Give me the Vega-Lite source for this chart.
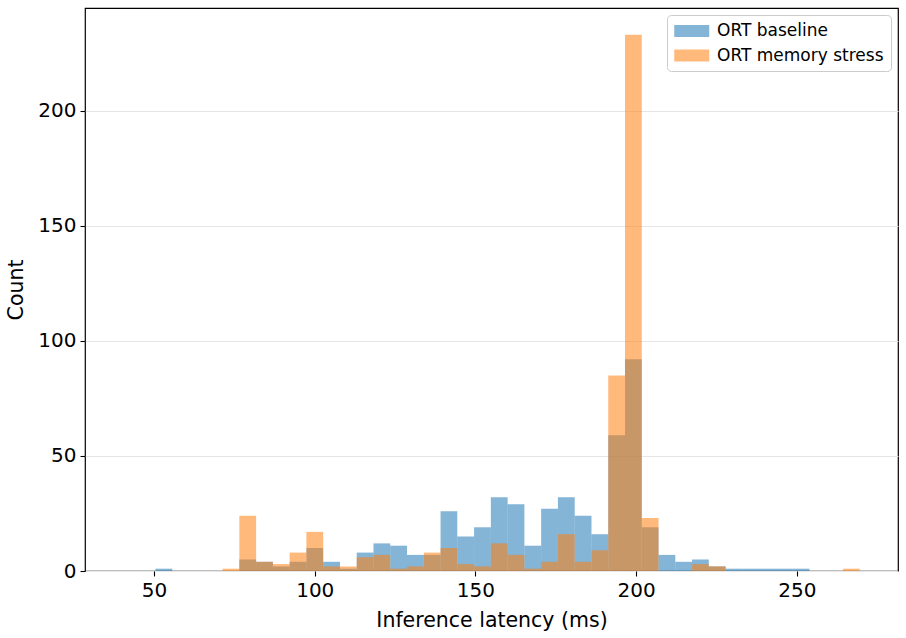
{
  "$schema": "https://vega.github.io/schema/vega-lite/v6.json",
  "width": 813,
  "height": 563,
  "autosize": {"type": "none"},
  "padding": {"left": 85, "top": 8, "right": 8, "bottom": 67},
  "background": "white",
  "config": {
    "font": "DejaVu Sans",
    "view": {"stroke": "black", "strokeWidth": 1.2},
    "axis": {
      "domain": false,
      "tickColor": "black",
      "tickSize": 5,
      "tickWidth": 1.1,
      "labelColor": "black",
      "labelFontSize": 20,
      "titleFontSize": 20.5,
      "titleFontWeight": "normal",
      "titleColor": "black",
      "labelPadding": 4
    }
  },
  "data": {
    "values": [
      {"series": "ORT baseline", "lo": 50.44, "hi": 55.66, "n": 1},
      {"series": "ORT baseline", "lo": 76.53, "hi": 81.75, "n": 5},
      {"series": "ORT baseline", "lo": 81.75, "hi": 86.97, "n": 4},
      {"series": "ORT baseline", "lo": 86.97, "hi": 92.18, "n": 2},
      {"series": "ORT baseline", "lo": 92.18, "hi": 97.40, "n": 4},
      {"series": "ORT baseline", "lo": 97.40, "hi": 102.62, "n": 10},
      {"series": "ORT baseline", "lo": 102.62, "hi": 107.84, "n": 4},
      {"series": "ORT baseline", "lo": 107.84, "hi": 113.06, "n": 1},
      {"series": "ORT baseline", "lo": 113.06, "hi": 118.27, "n": 8},
      {"series": "ORT baseline", "lo": 118.27, "hi": 123.49, "n": 12},
      {"series": "ORT baseline", "lo": 123.49, "hi": 128.71, "n": 11},
      {"series": "ORT baseline", "lo": 128.71, "hi": 133.93, "n": 7},
      {"series": "ORT baseline", "lo": 133.93, "hi": 139.15, "n": 7},
      {"series": "ORT baseline", "lo": 139.15, "hi": 144.36, "n": 26},
      {"series": "ORT baseline", "lo": 144.36, "hi": 149.58, "n": 15},
      {"series": "ORT baseline", "lo": 149.58, "hi": 154.80, "n": 19},
      {"series": "ORT baseline", "lo": 154.80, "hi": 160.02, "n": 32},
      {"series": "ORT baseline", "lo": 160.02, "hi": 165.24, "n": 29},
      {"series": "ORT baseline", "lo": 165.24, "hi": 170.45, "n": 11},
      {"series": "ORT baseline", "lo": 170.45, "hi": 175.67, "n": 27},
      {"series": "ORT baseline", "lo": 175.67, "hi": 180.89, "n": 32},
      {"series": "ORT baseline", "lo": 180.89, "hi": 186.11, "n": 24},
      {"series": "ORT baseline", "lo": 186.11, "hi": 191.33, "n": 16},
      {"series": "ORT baseline", "lo": 191.33, "hi": 196.54, "n": 59},
      {"series": "ORT baseline", "lo": 196.54, "hi": 201.76, "n": 92},
      {"series": "ORT baseline", "lo": 201.76, "hi": 206.98, "n": 19},
      {"series": "ORT baseline", "lo": 206.98, "hi": 212.20, "n": 7},
      {"series": "ORT baseline", "lo": 212.20, "hi": 217.42, "n": 4},
      {"series": "ORT baseline", "lo": 217.42, "hi": 222.63, "n": 5},
      {"series": "ORT baseline", "lo": 222.63, "hi": 227.85, "n": 2},
      {"series": "ORT baseline", "lo": 227.85, "hi": 233.07, "n": 1},
      {"series": "ORT baseline", "lo": 233.07, "hi": 238.29, "n": 1},
      {"series": "ORT baseline", "lo": 238.29, "hi": 243.51, "n": 1},
      {"series": "ORT baseline", "lo": 243.51, "hi": 248.72, "n": 1},
      {"series": "ORT baseline", "lo": 248.72, "hi": 253.94, "n": 1},
      {"series": "ORT memory stress", "lo": 71.31, "hi": 76.53, "n": 1},
      {"series": "ORT memory stress", "lo": 76.53, "hi": 81.75, "n": 24},
      {"series": "ORT memory stress", "lo": 81.75, "hi": 86.97, "n": 4},
      {"series": "ORT memory stress", "lo": 86.97, "hi": 92.18, "n": 3},
      {"series": "ORT memory stress", "lo": 92.18, "hi": 97.40, "n": 8},
      {"series": "ORT memory stress", "lo": 97.40, "hi": 102.62, "n": 17},
      {"series": "ORT memory stress", "lo": 102.62, "hi": 107.84, "n": 2},
      {"series": "ORT memory stress", "lo": 107.84, "hi": 113.06, "n": 2},
      {"series": "ORT memory stress", "lo": 113.06, "hi": 118.27, "n": 6},
      {"series": "ORT memory stress", "lo": 118.27, "hi": 123.49, "n": 7},
      {"series": "ORT memory stress", "lo": 123.49, "hi": 128.71, "n": 1},
      {"series": "ORT memory stress", "lo": 128.71, "hi": 133.93, "n": 2},
      {"series": "ORT memory stress", "lo": 133.93, "hi": 139.15, "n": 8},
      {"series": "ORT memory stress", "lo": 139.15, "hi": 144.36, "n": 10},
      {"series": "ORT memory stress", "lo": 144.36, "hi": 149.58, "n": 3},
      {"series": "ORT memory stress", "lo": 149.58, "hi": 154.80, "n": 2},
      {"series": "ORT memory stress", "lo": 154.80, "hi": 160.02, "n": 12},
      {"series": "ORT memory stress", "lo": 160.02, "hi": 165.24, "n": 7},
      {"series": "ORT memory stress", "lo": 165.24, "hi": 170.45, "n": 1},
      {"series": "ORT memory stress", "lo": 170.45, "hi": 175.67, "n": 4},
      {"series": "ORT memory stress", "lo": 175.67, "hi": 180.89, "n": 16},
      {"series": "ORT memory stress", "lo": 180.89, "hi": 186.11, "n": 4},
      {"series": "ORT memory stress", "lo": 186.11, "hi": 191.33, "n": 9},
      {"series": "ORT memory stress", "lo": 191.33, "hi": 196.54, "n": 85},
      {"series": "ORT memory stress", "lo": 196.54, "hi": 201.76, "n": 233},
      {"series": "ORT memory stress", "lo": 201.76, "hi": 206.98, "n": 23},
      {"series": "ORT memory stress", "lo": 217.42, "hi": 222.63, "n": 3},
      {"series": "ORT memory stress", "lo": 222.63, "hi": 227.85, "n": 2},
      {"series": "ORT memory stress", "lo": 264.38, "hi": 269.60, "n": 1}
    ]
  },
  "mark": {"type": "rect", "opacity": 0.55, "clip": true},
  "encoding": {
    "x": {
      "field": "lo",
      "type": "quantitative",
      "scale": {"domain": [28.5, 281.5], "nice": false, "zero": false},
      "axis": {"values": [50, 100, 150, 200, 250], "grid": false, "title": "Inference latency (ms)", "titlePadding": 10}
    },
    "x2": {"field": "hi"},
    "y": {
      "field": "n",
      "type": "quantitative",
      "scale": {"domain": [0, 244.65], "nice": false},
      "axis": {"values": [0, 50, 100, 150, 200], "grid": true, "gridColor": "#e6e6e6", "gridWidth": 1.2, "title": "Count", "titlePadding": 11}
    },
    "y2": {"datum": 0},
    "color": {
      "field": "series",
      "type": "nominal",
      "scale": {"domain": ["ORT baseline", "ORT memory stress"], "range": ["#1f77b4", "#ff7f0e"]},
      "legend": {
        "title": null,
        "orient": "top-right",
        "offset": 7,
        "padding": 7,
        "fillColor": "white",
        "strokeColor": "#cccccc",
        "cornerRadius": 4,
        "labelFontSize": 17,
        "labelLimit": 0,
        "labelColor": "black",
        "symbolType": "M-1,-0.7L3,-0.7L3,0.7L-1,0.7Z",
        "symbolSize": 306,
        "symbolOpacity": 0.55,
        "symbolStrokeWidth": 0,
        "rowPadding": 7.5,
        "labelOffset": 25
      }
    }
  }
}
